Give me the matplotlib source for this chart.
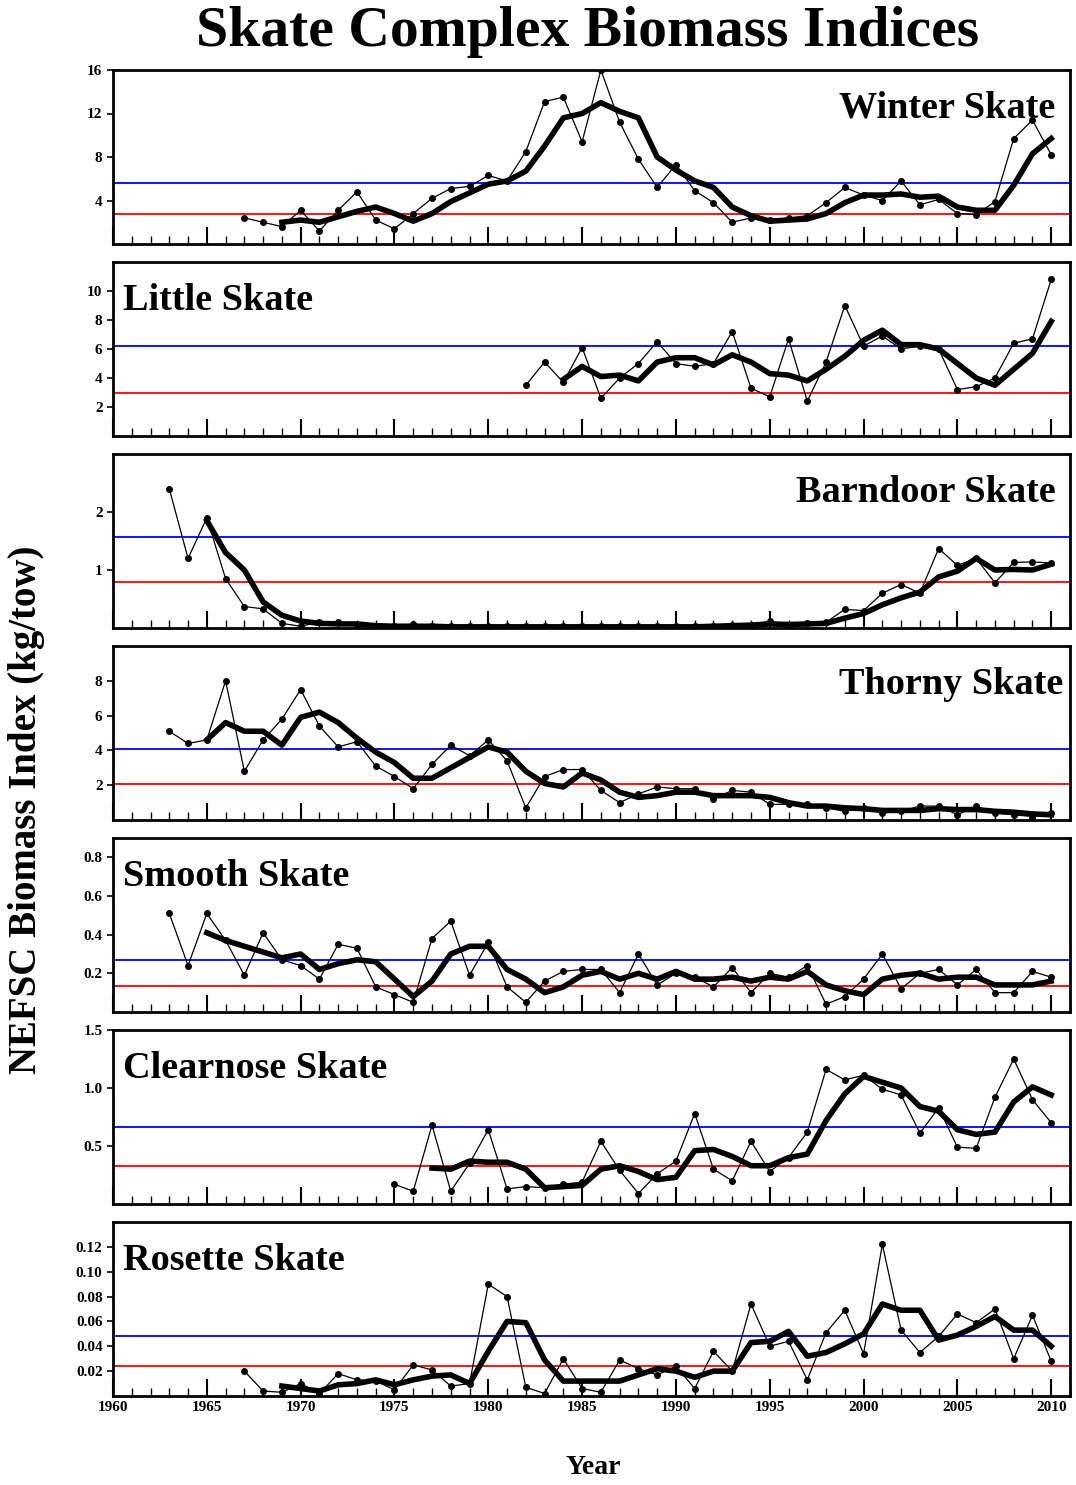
import numpy as np
import matplotlib
matplotlib.use("Agg")
import matplotlib.pyplot as plt
from matplotlib.ticker import MultipleLocator, FixedLocator

plt.rcParams['font.family'] = ['Liberation Serif', 'DejaVu Serif']
plt.rcParams['font.weight'] = 'bold'

# ---- data (kg/tow) ----
winter_yr = np.arange(1967, 2011)
winter = [2.4, 2.0, 1.6, 3.1, 1.2, 3.1, 4.8, 2.2, 1.4, 2.8, 4.2, 5.1, 5.3, 6.3, 5.8,
          8.5, 13.1, 13.5, 9.4, 16.0, 11.2, 7.8, 5.2, 7.3, 4.9, 3.8, 2.0, 2.4, 2.2,
          2.4, 2.6, 3.8, 5.2, 4.5, 4.0, 5.8, 3.6, 4.1, 2.8, 2.7, 3.9, 9.7, 11.4, 8.2]
winter_sm_yr = np.arange(1969, 2011)
winter_sm = [2.0, 2.2, 2.0, 2.5, 3.0, 3.4, 2.8, 2.1, 2.8, 3.9, 4.7, 5.5, 5.8, 6.7,
             9.0, 11.6, 12.0, 13.0, 12.2, 11.6, 8.0, 6.8, 5.8, 5.2, 3.4, 2.6, 2.1,
             2.2, 2.3, 2.8, 3.8, 4.5, 4.5, 4.6, 4.3, 4.4, 3.4, 3.1, 3.1, 5.4, 8.3, 9.7]

little_yr = np.arange(1982, 2011)
little = [3.5, 5.1, 3.7, 6.1, 2.6, 4.0, 5.0, 6.5, 5.0, 4.8, 5.0, 7.2, 3.3, 2.7, 6.7,
          2.4, 5.1, 9.0, 6.2, 6.9, 6.0, 6.2, 6.0, 3.2, 3.4, 4.0, 6.4, 6.7, 10.8]
little_sm_yr = np.arange(1984, 2011)
little_sm = [3.9, 4.8, 4.1, 4.2, 3.8, 5.1, 5.4, 5.4, 4.9, 5.6, 5.1, 4.3, 4.2, 3.8,
             4.6, 5.5, 6.6, 7.3, 6.3, 6.3, 6.0, 5.0, 4.0, 3.5, 4.6, 5.7, 7.9]

barn_yr = np.arange(1963, 2011)
barn = [2.4, 1.2, 1.9, 0.85, 0.37, 0.33, 0.08, 0.03, 0.1, 0.1, 0.06, 0.03, 0.03, 0.07,
        0.03, 0.03, 0.03, 0.03, 0.04, 0.03, 0.03, 0.03, 0.03, 0.04, 0.03, 0.03, 0.03,
        0.03, 0.04, 0.03, 0.06, 0.05, 0.12, 0.05, 0.08, 0.1, 0.32, 0.3, 0.6, 0.75,
        0.6, 1.37, 1.08, 1.2, 0.78, 1.13, 1.14, 1.12]
barn_sm_yr = np.arange(1965, 2011)
barn_sm = [1.85, 1.3, 1.0, 0.45, 0.22, 0.12, 0.08, 0.07, 0.07, 0.04, 0.03, 0.03, 0.03,
           0.02, 0.02, 0.02, 0.02, 0.02, 0.02, 0.02, 0.02, 0.02, 0.02, 0.02, 0.02,
           0.02, 0.02, 0.03, 0.04, 0.05, 0.07, 0.06, 0.07, 0.08, 0.17, 0.25, 0.4,
           0.52, 0.62, 0.88, 0.98, 1.2, 1.0, 1.01, 1.0, 1.1]

thorny_yr = np.arange(1963, 2011)
thorny = [5.1, 4.4, 4.6, 8.0, 2.8, 4.6, 5.8, 7.5, 5.4, 4.2, 4.5, 3.1, 2.5, 1.8, 3.2,
          4.3, 3.7, 4.6, 3.4, 0.7, 2.5, 2.9, 2.9, 1.7, 1.0, 1.5, 1.9, 1.8, 1.8, 1.2,
          1.7, 1.6, 0.9, 0.9, 0.9, 0.7, 0.5, 0.7, 0.4, 0.5, 0.8, 0.8, 0.3, 0.8, 0.4,
          0.3, 0.2, 0.4]
thorny_sm_yr = np.arange(1965, 2011)
thorny_sm = [4.6, 5.6, 5.1, 5.1, 4.3, 5.9, 6.2, 5.6, 4.7, 3.9, 3.3, 2.4, 2.4, 3.0,
             3.6, 4.2, 3.9, 2.8, 2.1, 1.9, 2.7, 2.3, 1.6, 1.3, 1.4, 1.6, 1.6, 1.4,
             1.4, 1.4, 1.3, 1.0, 0.8, 0.8, 0.7, 0.65, 0.55, 0.55, 0.55, 0.65, 0.6,
             0.6, 0.5, 0.45, 0.35, 0.3]

smooth_yr = np.arange(1963, 2011)
smooth = [0.51, 0.24, 0.51, 0.37, 0.19, 0.41, 0.27, 0.24, 0.17, 0.35, 0.33, 0.13,
          0.09, 0.05, 0.38, 0.47, 0.19, 0.36, 0.13, 0.05, 0.16, 0.21, 0.22, 0.22,
          0.10, 0.30, 0.14, 0.20, 0.18, 0.13, 0.23, 0.10, 0.20, 0.18, 0.24, 0.04,
          0.08, 0.17, 0.30, 0.12, 0.20, 0.22, 0.14, 0.22, 0.10, 0.10, 0.21, 0.18]
smooth_sm_yr = np.arange(1965, 2011)
smooth_sm = [0.41, 0.37, 0.34, 0.31, 0.28, 0.30, 0.22, 0.25, 0.27, 0.26, 0.17, 0.08,
             0.16, 0.30, 0.34, 0.34, 0.22, 0.17, 0.10, 0.13, 0.19, 0.21, 0.17, 0.20,
             0.17, 0.21, 0.17, 0.17, 0.18, 0.16, 0.18, 0.17, 0.21, 0.14, 0.11, 0.09,
             0.17, 0.19, 0.20, 0.17, 0.18, 0.18, 0.14, 0.14, 0.14, 0.16]

clear_yr = np.arange(1975, 2011)
clear = [0.17, 0.11, 0.68, 0.11, 0.35, 0.64, 0.13, 0.15, 0.14, 0.17, 0.19, 0.54, 0.29,
         0.09, 0.26, 0.37, 0.78, 0.30, 0.20, 0.54, 0.28, 0.40, 0.62, 1.16, 1.07, 1.11,
         0.99, 0.94, 0.61, 0.83, 0.49, 0.48, 0.92, 1.25, 0.90, 0.70]
clear_sm_yr = np.arange(1977, 2011)
clear_sm = [0.31, 0.30, 0.37, 0.36, 0.36, 0.30, 0.14, 0.15, 0.16, 0.30, 0.33, 0.28,
            0.21, 0.23, 0.46, 0.47, 0.41, 0.33, 0.33, 0.40, 0.43, 0.72, 0.95, 1.10,
            1.05, 1.00, 0.84, 0.80, 0.64, 0.60, 0.62, 0.88, 1.01, 0.94]

rose_yr = np.arange(1967, 2011)
rose = [0.020, 0.004, 0.003, 0.010, 0.002, 0.018, 0.013, 0.012, 0.005, 0.025, 0.021,
        0.008, 0.010, 0.090, 0.080, 0.007, 0.002, 0.030, 0.006, 0.003, 0.029, 0.022,
        0.017, 0.024, 0.006, 0.036, 0.020, 0.074, 0.040, 0.044, 0.013, 0.051, 0.069,
        0.034, 0.122, 0.053, 0.035, 0.048, 0.066, 0.059, 0.070, 0.030, 0.065, 0.028]
rose_sm_yr = np.arange(1969, 2011)
rose_sm = [0.008, 0.006, 0.004, 0.009, 0.010, 0.013, 0.009, 0.013, 0.016, 0.017,
           0.010, 0.036, 0.060, 0.059, 0.029, 0.012, 0.012, 0.012, 0.012, 0.017,
           0.022, 0.020, 0.015, 0.020, 0.020, 0.043, 0.044, 0.052, 0.032, 0.035,
           0.042, 0.050, 0.074, 0.069, 0.069, 0.045, 0.049, 0.056, 0.064, 0.053,
           0.053, 0.040]

panels = [
    ("Winter Skate", winter_yr, winter, winter_sm_yr, winter_sm, 5.6, 2.8, 16, [4, 8, 12, 16], "%d", "right"),
    ("Little Skate", little_yr, little, little_sm_yr, little_sm, 6.2, 3.0, 12, [2, 4, 6, 8, 10], "%d", "left"),
    ("Barndoor Skate", barn_yr, barn, barn_sm_yr, barn_sm, 1.57, 0.79, 3, [1, 2], "%d", "right"),
    ("Thorny Skate", thorny_yr, thorny, thorny_sm_yr, thorny_sm, 4.1, 2.05, 10, [2, 4, 6, 8], "%d", "right"),
    ("Smooth Skate", smooth_yr, smooth, smooth_sm_yr, smooth_sm, 0.27, 0.135, 0.9, [0.2, 0.4, 0.6, 0.8], "%.1f", "left"),
    ("Clearnose Skate", clear_yr, clear, clear_sm_yr, clear_sm, 0.66, 0.33, 1.5, [0.5, 1.0, 1.5], "%.1f", "left"),
    ("Rosette Skate", rose_yr, rose, rose_sm_yr, rose_sm, 0.048, 0.024, 0.14, [0.02, 0.04, 0.06, 0.08, 0.10, 0.12], "%.2f", "left"),
]
label_x_right = [0.985, None, 0.985, 0.993]

W, H = 1076, 1485
fig = plt.figure(figsize=(W / 100, H / 100), dpi=100)
tops = [70, 262, 454, 646, 838, 1030, 1222]
ph = 174
for i, (name, yr, val, syr, sval, blue, red, ymax, yt, fmt, side) in enumerate(panels):
    ax = fig.add_axes([113 / W, 1 - (tops[i] + ph) / H, (1070 - 113) / W, ph / H])
    ax.axhline(blue, color="#0000ff", lw=1.3, zorder=1)
    ax.axhline(red, color="#ff0000", lw=1.3, zorder=1)
    ax.plot(yr, val, color="k", lw=0.9, marker="o", ms=4, zorder=3)
    ax.plot(syr, sval, color="k", lw=4, zorder=4, solid_joinstyle="round")
    ax.set_xlim(1960, 2011)
    ax.set_ylim(0, ymax)
    ax.yaxis.set_major_locator(FixedLocator(yt))
    ax.set_yticklabels([fmt % v for v in yt], fontsize=11, fontweight="bold")
    ax.xaxis.set_major_locator(MultipleLocator(5))
    ax.xaxis.set_minor_locator(MultipleLocator(1))
    ax.tick_params(axis="x", which="major", direction="in", length=12, width=1.5)
    ax.tick_params(axis="x", which="minor", direction="in", length=6, width=1)
    ax.tick_params(axis="y", direction="out", length=4, width=1.2)
    if i < len(panels) - 1:
        ax.set_xticklabels([])
    else:
        ax.tick_params(axis="x", labelsize=11)
        for t in ax.get_xticklabels():
            t.set_fontweight("bold")
    for s in ax.spines.values():
        s.set_linewidth(2)
    if side == "right":
        ax.text(label_x_right[i], 0.88, name, transform=ax.transAxes, ha="right", va="top",
                fontsize=27.5, fontweight="bold")
    else:
        ax.text(0.01, 0.88, name, transform=ax.transAxes, ha="left", va="top",
                fontsize=27.5, fontweight="bold")

fig.text(588 / W, 1 - 32 / H, "Skate Complex Biomass Indices", ha="center", va="center",
         fontsize=41.5, fontweight="bold")
fig.text(593 / W, 1 - 1468 / H, "Year", ha="center", va="center", fontsize=20, fontweight="bold")
fig.text(27 / W, 1 - 810 / H, "NEFSC Biomass Index (kg/tow)", ha="center", va="center",
         rotation=90, fontsize=28, fontweight="bold")
fig.savefig("out.png", dpi=100)
